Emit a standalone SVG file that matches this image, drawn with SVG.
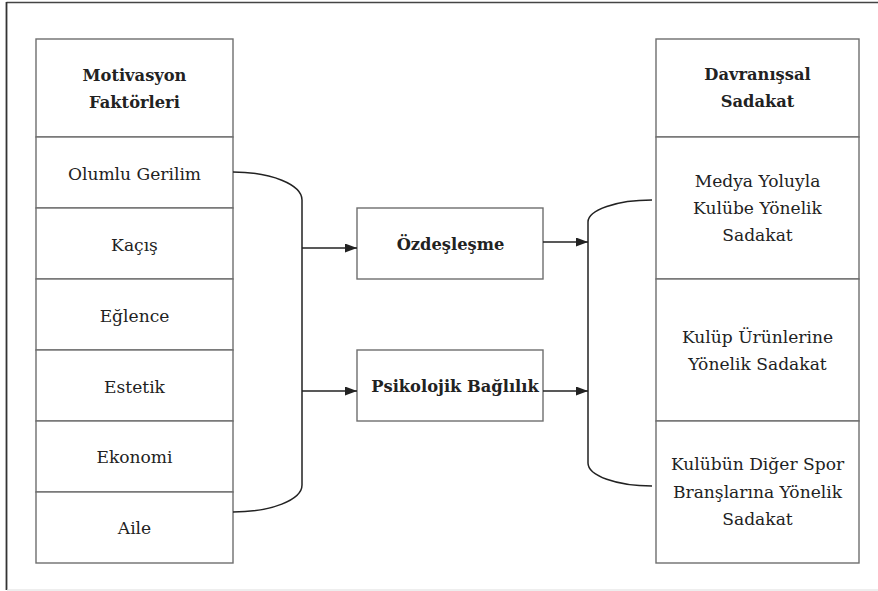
<svg xmlns="http://www.w3.org/2000/svg" width="878" height="591" viewBox="0 0 878 591">
<style>
.box{fill:#fff;stroke:#6e6e6e;stroke-width:1.4}
text{font-family:"DejaVu Serif",serif;font-size:17.1px;fill:#222;text-anchor:middle}
.b{font-weight:bold;font-size:16.3px}
.c{fill:none;stroke:#222;stroke-width:1.5}
</style>
<defs>
<marker id="ah" markerWidth="12" markerHeight="9" refX="12" refY="4.5" orient="auto" markerUnits="userSpaceOnUse">
<path d="M0,0 L12,4.5 L0,9 Z" fill="#222"/>
</marker>
</defs>
<rect x="0" y="0" width="878" height="591" fill="#fff"/>
<g id="frame">
<line x1="6.5" y1="2.5" x2="878" y2="2.5" stroke="#444" stroke-width="1.6"/>
<line x1="6.5" y1="2" x2="6.5" y2="590" stroke="#333" stroke-width="1.8"/>
<line x1="7" y1="590" x2="878" y2="590" stroke="#ddd" stroke-width="1.2"/>
</g>
<g id="motivasyon">
<rect class="box" x="36" y="39" width="197" height="98"/>
<text class="b" x="134.5" y="81">Motivasyon</text>
<text class="b" x="134.5" y="108">Faktörleri</text>
</g>
<g id="olumlu-gerilim">
<rect class="box" x="36" y="137" width="197" height="71"/>
<text x="134.5" y="180">Olumlu Gerilim</text>
</g>
<g id="kacis">
<rect class="box" x="36" y="208" width="197" height="71"/>
<text x="134.5" y="251">Kaçış</text>
</g>
<g id="eglence">
<rect class="box" x="36" y="279" width="197" height="71"/>
<text x="134.5" y="322">Eğlence</text>
</g>
<g id="estetik">
<rect class="box" x="36" y="350" width="197" height="71"/>
<text x="134.5" y="393">Estetik</text>
</g>
<g id="ekonomi">
<rect class="box" x="36" y="421" width="197" height="71"/>
<text x="134.5" y="463">Ekonomi</text>
</g>
<g id="aile">
<rect class="box" x="36" y="492" width="197" height="71"/>
<text x="134.5" y="534">Aile</text>
</g>
<g id="ozdeslesme">
<rect class="box" x="357" y="208" width="186" height="71"/>
<text class="b" x="450.5" y="250">Özdeşleşme</text>
</g>
<g id="psikolojik-baglilik">
<rect class="box" x="357" y="350" width="186" height="71"/>
<text class="b" x="455" y="392">Psikolojik Bağlılık</text>
</g>
<g id="davranissal">
<rect class="box" x="656" y="39" width="203" height="98"/>
<text class="b" x="757.5" y="80">Davranışsal</text>
<text class="b" x="757.5" y="107">Sadakat</text>
</g>
<g id="medya">
<rect class="box" x="656" y="137" width="203" height="142"/>
<text x="757.5" y="187">Medya Yoluyla</text>
<text x="757.5" y="214">Kulübe Yönelik</text>
<text x="757.5" y="241">Sadakat</text>
</g>
<g id="urunler">
<rect class="box" x="656" y="279" width="203" height="142"/>
<text x="757.5" y="343">Kulüp Ürünlerine</text>
<text x="757.5" y="370">Yönelik Sadakat</text>
</g>
<g id="diger-spor">
<rect class="box" x="656" y="421" width="203" height="142"/>
<text x="757.5" y="470">Kulübün Diğer Spor</text>
<text x="757.5" y="498">Branşlarına Yönelik</text>
<text x="757.5" y="525">Sadakat</text>
</g>
<g id="connectors">
<path class="c" d="M233,172 A69,28 0 0 1 302,200 L302,485 A69,27 0 0 1 233,512"/>
<path class="c" d="M652,200 A64,22 0 0 0 588,222 L588,463 A64,23 0 0 0 652,486"/>
<line class="c" x1="302" y1="248" x2="357" y2="248" marker-end="url(#ah)"/>
<line class="c" x1="302" y1="391" x2="357" y2="391" marker-end="url(#ah)"/>
<line class="c" x1="543" y1="242" x2="588" y2="242" marker-end="url(#ah)"/>
<line class="c" x1="543" y1="391" x2="588" y2="391" marker-end="url(#ah)"/>
</g>
</svg>
